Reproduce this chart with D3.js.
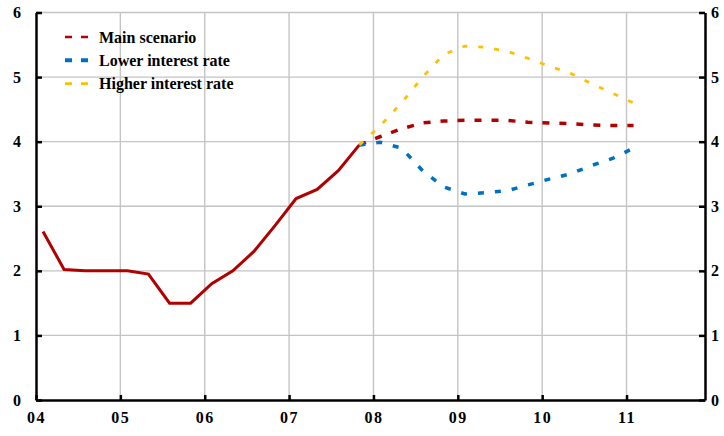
<!DOCTYPE html>
<html><head><meta charset="utf-8">
<script src="https://cdn.jsdelivr.net/npm/d3@7"></script>
<style>body{margin:0;background:#fff}svg{display:block}</style>
</head><body><svg id="c" width="724" height="436"></svg>
<script>
// ---- data ----
const histX = [2004.083,2004.333,2004.583,2004.833,2005.083,2005.333,2005.583,2005.833,2006.083,2006.333,2006.583,2006.833,2007.083,2007.333,2007.583,2007.833];
const histY = [2.61,2.02,2.0,2.0,2.0,1.95,1.5,1.5,1.8,2.0,2.3,2.7,3.12,3.26,3.55,3.95];
const fcX = [2007.833,2008.083,2008.333,2008.583,2008.833,2009.083,2009.333,2009.583,2009.833,2010.083,2010.333,2010.583,2010.833,2011.083];
const mainY = [3.95,4.08,4.2,4.29,4.32,4.33,4.33,4.33,4.30,4.29,4.28,4.26,4.25,4.25];
const lowerY = [3.95,3.99,3.90,3.55,3.30,3.19,3.21,3.24,3.33,3.42,3.50,3.63,3.74,3.90];
const higherY = [3.95,4.25,4.6,5.0,5.35,5.48,5.46,5.40,5.29,5.17,5.06,4.90,4.75,4.60];
const yTicks = [0,1,2,3,4,5,6];
const xTicks = [2004,2005,2006,2007,2008,2009,2010,2011];
const xTickLabels = ["04","05","06","07","08","09","10","11"];
const legendLabels = ["Main scenario","Lower interest rate","Higher interest rate"];
const colors = {hist:"#b00000", main:"#b00000", lower:"#0070c0", higher:"#ffc000"};

// ---- chart ----
const svg = d3.select("#c");
const x0 = 36, x1 = 705, yb = 400, yt = 12.5;
const x = d3.scaleLinear().domain([2004, 2011.93]).range([x0, x1]);
const y = d3.scaleLinear().domain([0, 6]).range([yb, yt]);
const font = "'Liberation Serif','Times New Roman',serif";

// grid
const g = svg.append("g");
g.selectAll("line.h").data(yTicks.filter(d => d > 0)).enter().append("line")
  .attr("x1", x0).attr("x2", x1).attr("y1", d => y(d)).attr("y2", d => y(d))
  .attr("stroke", "#c4c4c4").attr("stroke-width", 1.4);
g.selectAll("line.v").data(xTicks.slice(1)).enter().append("line")
  .attr("x1", d => x(d)).attr("x2", d => x(d)).attr("y1", y(0)).attr("y2", y(6))
  .attr("stroke", "#c4c4c4").attr("stroke-width", 1.4);

// lines
const line = d3.line().x(d => x(d[0])).y(d => y(d[1]));
const zip = (a, b) => a.map((v, i) => [v, b[i]]);
svg.append("path").attr("d", line(zip(histX, histY))).attr("fill", "none")
  .attr("stroke", colors.hist).attr("stroke-width", 3);
svg.append("path").attr("d", line(zip(fcX, mainY))).attr("fill", "none")
  .attr("stroke", colors.main).attr("stroke-width", 3.5).attr("stroke-dasharray", "7,10");
svg.append("path").attr("d", line(zip(fcX, lowerY))).attr("fill", "none")
  .attr("stroke", colors.lower).attr("stroke-width", 3.5).attr("stroke-dasharray", "6,11");
svg.append("path").attr("d", line(zip(fcX, higherY))).attr("fill", "none")
  .attr("stroke", colors.higher).attr("stroke-width", 2.8).attr("stroke-dasharray", "5,11");

// axes
function styleAxis(sel) {
  sel.selectAll("path.domain").attr("stroke", "#000").attr("stroke-width", 2.5);
  sel.selectAll(".tick line").attr("stroke", "#000").attr("stroke-width", 2.5);
  sel.selectAll("text").attr("font-family", font).attr("font-weight", "bold")
    .attr("font-size", 16).attr("fill", "#000");
}
svg.append("g").attr("transform", `translate(${x0},0)`)
  .call(d3.axisLeft(y).tickValues(yTicks).tickSize(-6).tickSizeOuter(0).tickPadding(15).tickFormat(d3.format("d")))
  .call(styleAxis);
svg.append("g").attr("transform", `translate(${x1},0)`)
  .call(d3.axisRight(y).tickValues(yTicks).tickSize(-6).tickSizeOuter(0).tickPadding(6).tickFormat(d3.format("d")))
  .call(styleAxis);
svg.append("g").attr("transform", `translate(0,${yb})`)
  .call(d3.axisBottom(x).tickValues(xTicks).tickSize(-5).tickSizeOuter(0).tickPadding(12)
    .tickFormat((d, i) => xTickLabels[i]))
  .call(styleAxis)
  .call(s => s.selectAll("text").attr("letter-spacing", 1.5));

// legend
const legColors = [colors.main, colors.lower, colors.higher];
const legWidths = [2.6, 4, 2.6];
const leg = svg.append("g");
legendLabels.forEach((lab, i) => {
  const ly = 37 + i * 23.3;
  leg.append("line").attr("x1", 65).attr("x2", 88).attr("y1", ly).attr("y2", ly)
    .attr("stroke", legColors[i]).attr("stroke-width", legWidths[i]).attr("stroke-dasharray", "7,9");
  leg.append("text").attr("x", 99).attr("y", ly).attr("dy", "0.35em")
    .attr("font-family", font).attr("font-weight", "bold").attr("font-size", 16).text(lab);
});
</script></body></html>
